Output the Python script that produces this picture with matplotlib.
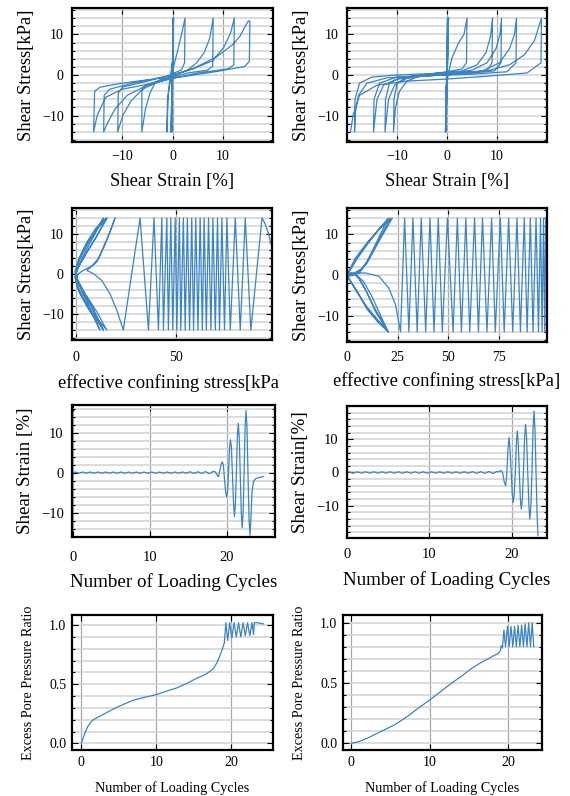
import matplotlib
matplotlib.use("Agg")
import matplotlib.pyplot as plt
from matplotlib.ticker import MultipleLocator, NullLocator
from matplotlib.transforms import Bbox, TransformedBbox

plt.rcParams['font.family'] = ['Liberation Serif', 'DejaVu Serif']
plt.rcParams['axes.unicode_minus'] = True

# ---------------- data: row 1 (stress-strain loops) ----------------
r1l_strain = [0, 0.1, -0.1, 0.15, -0.2, 0.2, -0.3, 0.2,
              0.1, -0.4, -0.8, -1.0, -1.1,
              -1.0, -0.5, 0.2, 0.9, 1.8, 2.5,
              2.4, 1.8, 0, -2, -3.5, -4.5, -5.4, -6.1,
              -6.1, -5.5, -3, 0, 3, 4.8, 6.3, 7.4, 8.1,
              8.0, 7.0, 3, 0, -3, -6, -8.3, -9.9, -10.9,
              -10.8, -10, -6, 0, 4, 8, 10.3, 11.6, 12.3,
              12.2, 11, 5, 0, -5, -9, -11.5, -13, -13.7,
              -13.6, -12.5, -8, 0, 4, 8.8, 12, 13.4, 14.7, 15.1, 15.4,
              15.3, 14.4, 9, 0, -5, -10, -13.3, -15, -15.7,
              -15.5, -14.4, -10, -5]
r1l_stress = [0, 14, -14, 14, -14, 14, -14, 14,
              4, 0, -4, -10, -14,
              -6, -2, 2, 5.4, 10, 14,
              3, 1.3, 0.3, -0.8, -2, -4.5, -8.5, -14,
              -4, -2.6, -1.5, -0.3, 1.2, 3, 5.5, 9, 14,
              2.2, 1.2, 0.5, -0.5, -1.8, -3.5, -6.5, -10, -14,
              -4.5, -3, -1.8, 0, 1.5, 3.5, 7, 10.5, 14,
              2.5, 1.5, 0.5, -0.8, -2.5, -5, -8.5, -12, -14,
              -5, -3.5, -2, 0, 1.5, 4.5, 7.5, 9.5, 12.5, 13.3, 13.3,
              3.4, 2.1, 0.9, -0.8, -2.3, -3.5, -5.5, -10, -14,
              -4, -3, -2, -1.2]

r1r_strain = [0, 0.2, -0.2, 0.3, -0.3, 0.1, -0.2, 0.3, -0.3,
              -0.2, 0.3, 1.0, 2.3, 3.4, 4.0,
              3.9, 3, 0, -5, -8, -9.5, -10.3, -10.7,
              -10.6, -10, -8, -3, 3, 6, 7.8, 8.7, 9.1,
              9.0, 8, 3, -3, -8, -10.5, -11.7, -12.4,
              -12.3, -11.5, -9, 0, 5, 8, 9.8, 10.6, 10.9,
              10.8, 9.5, 3, -5, -10, -12.7, -14, -14.7,
              -14.6, -13.5, -10, 0, 7, 10.5, 12.5, 13.5, 13.9,
              13.8, 12, 5, -5, -12, -16, -17.7, -18.3, -18.5,
              -18.4, -17.5, -15, -10, 0, 8, 12.5, 15.5, 17.5, 18.9,
              18.8, 16, 8, 0, -8, -14, -17.5, -18.8, -19.3]
r1r_stress = [0, 14, -14, 14, -14, 14, -14, 14, -14,
              -3, 0.5, 4.2, 7.9, 10, 14,
              3, 1.5, 0.8, 0, -1.5, -4, -8, -14,
              -6, -2, -0.5, 0.3, 1, 2.5, 5.5, 9.5, 14,
              3, 1, 0.5, 0, -0.8, -2.5, -6, -14,
              -6, -2, -0.5, 0.3, 1.2, 3, 6.5, 10, 14,
              3, 1.0, 0.3, -0.3, -1, -2.5, -6, -14,
              -6, -2, -0.5, 0, 1, 3, 6.5, 10, 14,
              3, 0.8, 0.2, -0.2, -0.7, -2, -5, -9, -14,
              -6, -2, -0.5, 0, 0.5, 1, 2.5, 5, 8.5, 14,
              3, 0.5, -0.3, -1, -1.5, -2.5, -5, -10, -14]

# ---------------- data: row 2 (stress paths) ----------------
r2l_peaks_p = [93.2, 87.6, 84.8, 82.3, 79.8, 77.3, 75.6, 74.4, 73.1, 71.9,
               70.9, 69.8, 68.6, 67.6, 66.4, 65.3, 64.2, 63.3, 62.2, 61.1,
               60.0, 58.9, 58.0, 56.9, 55.8, 54.7, 53.8, 52.5, 51.8, 50.5,
               49.7, 48.5, 47.5, 46.3, 45.5, 43.8, 43.0, 41.3, 39.1, 36.3,
               32.1, 23.7]
r2l_peaks_tau = [14, -14] * 21
r2l_start_p = [100.5, 99.3, 98.0, 96.5, 94.8]
r2l_start_tau = [0, 4, 7, 10, 12.5]
r2l_tail_p = [20.4, 17.0, 12.9, 8.7, 5.4, 10.4, 14, 17, 19.6,
              15.5, 11.5, 8, 4, 1.0, 0.0, 1.5, 5, 9.5, 15.4,
              10.5, 6, 2, 0, 0.5, 3, 7, 11, 15.7,
              11, 6, 2, -0.3, 0.3, 3, 7, 10.5, 13.7,
              9, 4.5, 1, -0.3, 1.5, 5, 9.5, 13.7,
              9, 4, 0.8, -0.5, 1, 5, 9, 12.0,
              8, 3.5, 0.5, -0.5, 1.5, 5.5, 10, 15.0,
              10, 5, 1, -0.5, 1.5, 6, 10.5, 13.7,
              9, 4, 0.5, -0.3]
r2l_tail_tau = [-9.0, -4.9, -1.6, 0.1, 0.9, 3.0, 7, 10.5, 14,
                8.5, 4.0, 2.0, 1.0, 0.0, -1.5, -4, -7.5, -10.5, -14,
                -9.5, -6, -3, -0.5, 2, 5, 8.5, 11.5, 14,
                10, 6, 2.5, 0, -2.5, -5.5, -9, -11.5, -14,
                -9.5, -5.5, -2, 0.5, 3.5, 7, 10.5, 14,
                9.5, 5, 1.5, -0.5, -3.5, -7.5, -11, -14,
                -9.5, -5, -1.5, 0.5, 4, 8, 11.5, 14,
                9, 5, 1.5, -1, -4.5, -8.5, -11.5, -14,
                -9, -4.5, -1, 1]

r2r_peaks_p = [98.0, 97.5, 96.9, 96.2, 95.4, 94.4, 93.2, 91.7, 90.4, 88.8,
               87.4, 85.5, 83.8, 81.7, 79.7, 77.5, 75.6, 73.1, 71.3, 69.0,
               66.8, 64.8, 62.9, 60.5, 58.6, 56.4, 54.4, 52.3, 49.5, 47.0,
               45.0, 42.9, 40.9, 38.8, 36.6, 34.6, 32.5, 30.5, 28.4, 26.4]
r2r_peaks_tau = [14, -14] * 20
r2r_start_p = [100.5, 99.6, 98.8]
r2r_start_tau = [0, 5, 10]
r2r_tail_p = [23.9, 20.6, 15.7, 9.1, 5, 1,
              0.3, 4, 10, 16, 22.3,
              16, 11, 7, 3, 0.5, 4, 10, 15, 20.3,
              14, 9.5, 6, 3, 0.5, 5, 11, 16, 21.4,
              15, 10, 6.5, 2.5, 0.3, 4, 9, 14.5, 20.3,
              13.5, 8, 5, 2, 0.3, 5, 10, 15, 20.3,
              14, 9, 6, 2, 0.3, 5, 10, 15, 20.3,
              12, 8, 4, 0.5]
r2r_tail_tau = [-7.3, -3.2, -0.3, 0.5, 0.5, 0.2,
                0.5, 4, 8, 11.3, 14,
                8.5, 4, 1.5, 0.3, -0.5, -3.5, -8, -11, -14,
                -9, -4, -1, 0.5, 0.3, 4.5, 8.5, 11.5, 14,
                8, 3, 1, 0, -0.3, -3.3, -7.5, -10.8, -14,
                -8, -2.5, 0, 0.5, 0.2, 4, 7.5, 10.8, 14,
                7.5, 2.5, 0.5, 0, -0.5, -4, -8.5, -11.5, -14,
                -5, -1.5, 0.2, 0]

# ---------------- data: row 3 (strain vs cycles) ----------------
r3l_cycles = [0, 0.25, 0.75, 1.25, 1.75, 2.25, 2.75, 3.25, 3.75, 4.25, 4.75,
              5.25, 5.75, 6.25, 6.75, 7.25, 7.75, 8.25, 8.75, 9.25, 9.75,
              10.25, 10.75, 11.25, 11.75, 12.25, 12.75, 13.25, 13.75, 14.25,
              14.75, 15.25, 15.75, 16.25, 16.75, 17.25, 17.75, 18.25,
              18.5, 18.7, 18.85, 18.95, 19.1, 19.3, 19.45, 19.58, 19.72,
              19.87, 20.0, 20.12, 20.25, 20.38, 20.5, 20.62, 20.75, 20.9,
              21.02, 21.14, 21.27, 21.4, 21.52, 21.64, 21.77, 21.91, 22.03,
              22.15, 22.28, 22.41, 22.53, 22.65, 22.78, 22.92, 23.04, 23.15,
              23.3, 23.5, 23.8, 24.3, 24.8]
r3l_strain = [0, 0.15, -0.15, 0.15, -0.15, 0.15, -0.15, 0.15, -0.15, 0.15, -0.15,
              0.15, -0.15, 0.15, -0.15, 0.15, -0.15, 0.15, -0.15, 0.15, -0.15,
              0.15, -0.15, 0.15, -0.15, 0.15, -0.15, 0.15, -0.15, 0.15,
              -0.15, 0.2, -0.2, 0.2, -0.2, 0.25, -0.25, 0.3,
              0.2, -0.3, -1.0, -0.9, 0.3, 2.2, 2.7, 1.8, -1.5,
              -4.8, -6.0, -4.8, 0.0, 6.0, 8.2, 6.5, 0.0, -7.5,
              -11.0, -8.0, 0.0, 9.0, 12.3, 9.0, 0.0, -10.0, -13.8,
              -10.0, 0.0, 11.5, 15.5, 11.5, 0.0, -11.5, -15.7, -12.0,
              -5.0, -2.2, -1.5, -1.2, -1.0]

r3r_cycles = [0, 0.25, 0.75, 1.25, 1.75, 2.25, 2.75, 3.25, 3.75, 4.25, 4.75,
              5.25, 5.75, 6.25, 6.75, 7.25, 7.75, 8.25, 8.75, 9.25, 9.75,
              10.25, 10.75, 11.25, 11.75, 12.25, 12.75, 13.25, 13.75, 14.25,
              14.75, 15.25, 15.75, 16.25, 16.75, 17.25, 17.75, 18.2,
              18.45, 18.7, 18.9, 19.1, 19.27, 19.4, 19.55, 19.68, 19.8,
              19.95, 20.08, 20.2, 20.32, 20.45, 20.58, 20.69, 20.8, 20.94,
              21.06, 21.18, 21.3, 21.44, 21.58, 21.7, 21.82, 21.96, 22.1,
              22.22, 22.34, 22.47, 22.6, 22.72, 22.84, 22.97, 23.1, 23.2]
r3r_strain = [0, 0.2, -0.2, 0.2, -0.2, 0.2, -0.2, 0.2, -0.2, 0.2, -0.2,
              0.2, -0.2, 0.2, -0.2, 0.2, -0.2, 0.2, -0.2, 0.2, -0.2,
              0.2, -0.2, 0.2, -0.2, 0.2, -0.2, 0.2, -0.2, 0.2,
              -0.2, 0.25, -0.25, 0.25, -0.25, 0.3, -0.3, 0.3,
              0.2, 0.6, 0.0, -2.8, -4.0, -1.0, 6.5, 10.5, 7.5,
              0.0, -6.5, -9.0, -6.5, 0.0, 9.0, 12.5, 9.0, 0.0,
              -8.0, -11.0, -8.0, 0.0, 10.5, 14.5, 10.5, 0.0, -10.0,
              -14.0, -10.0, 0.0, 13.0, 18.5, 13.0, 0.0, -13.0, -19.0]

# ---------------- data: row 4 (excess pore pressure ratio) ----------------
r4l_cycles = [0, 0.15, 0.3, 0.5, 0.84, 1.2, 1.6, 2.5, 3.5, 4.75, 6, 7, 8.5,
              9.9, 11.3, 12.8, 14.2, 15.4, 16.3, 17, 17.6, 18.1, 18.5, 18.8,
              19.1, 19.3, 19.55, 19.8, 20.1, 20.4, 20.7, 21.0, 21.3, 21.6,
              21.9, 22.2, 22.5, 22.8, 23.0, 23.1, 23.5, 24.3]
r4l_ratio = [0, 0.03, 0.056, 0.09, 0.14, 0.175, 0.2, 0.23, 0.265, 0.305,
             0.34, 0.366, 0.39, 0.41, 0.44, 0.47, 0.51, 0.55, 0.575, 0.6,
             0.63, 0.68, 0.74, 0.79, 0.85, 1.02, 0.87, 1.02, 0.89, 1.02,
             0.9, 1.02, 0.9, 1.02, 0.91, 1.02, 0.91, 1.02, 0.92, 1.02,
             1.02, 1.01]

r4r_cycles = [0, 1, 2.1, 3.2, 4.3, 5.4, 6.4, 7.5, 8.5, 10, 11.4, 12.8, 14.1,
              15.3, 16.4, 17.4, 18.1, 18.7, 19.0, 19.1, 19.25, 19.45, 19.65,
              19.9, 20.12, 20.35, 20.58, 20.8, 21.03, 21.25, 21.48, 21.7,
              21.93, 22.15, 22.38, 22.6, 22.83, 23.05, 23.25]
r4r_ratio = [0, 0.015, 0.045, 0.08, 0.115, 0.15, 0.19, 0.24, 0.29, 0.36,
             0.43, 0.5, 0.56, 0.62, 0.665, 0.70, 0.725, 0.745, 0.77, 0.81,
             0.79, 0.94, 0.80, 0.97, 0.80, 0.97, 0.80, 0.97, 0.80, 0.98,
             0.80, 0.98, 0.80, 0.99, 0.80, 1.0, 0.80, 1.0, 0.80]

# ---------------- figure ----------------
W, H = 570, 796
fig = plt.figure(figsize=(W / 100, H / 100), dpi=100)
LINE = '#3b84c4'
LW = 0.9


def rect(x0, y0, x1, y1):
    return [x0 / W, 1 - y1 / H, (x1 - x0) / W, (y1 - y0) / H]


def style(ax, ymin_step, tick_size, tick_pad, xpad=None):
    ax.yaxis.set_minor_locator(MultipleLocator(ymin_step))
    ax.xaxis.set_minor_locator(NullLocator())
    ax.xaxis.grid(True, which='major', color='#a8a8a8', lw=0.9)
    ax.yaxis.grid(True, which='both', color='#d2d2d2', lw=1.1)
    ax.set_axisbelow(True)
    ax.tick_params(which='both', direction='in', top=True, right=True,
                   labelsize=tick_size, pad=tick_pad, width=0.8)
    if xpad is not None:
        ax.tick_params(axis='x', which='both', pad=xpad)
    ax.tick_params(which='major', length=4.5)
    ax.tick_params(which='minor', length=2.5)
    for s in ax.spines.values():
        s.set_linewidth(1.6)


def stress_strain(ax, xs, ys, ylab):
    ax.plot(xs, ys, color=LINE, lw=LW)
    ax.set_xlim(-20, 20)
    ax.set_ylim(-16.5, 16.5)
    ax.set_xticks([-10, 0, 10])
    ax.set_yticks([-10, 0, 10])
    style(ax, 2, 10, 6)
    ax.set_xlabel('Shear Strain [%]', fontsize=13.4, labelpad=7)
    ax.set_ylabel(ylab, fontsize=13.4, labelpad=5)


# Row 1
ax1 = fig.add_axes(rect(72, 8, 273, 142))
stress_strain(ax1, r1l_strain, r1l_stress, 'Shear Stress[kPa]')
ax2 = fig.add_axes(rect(347, 8, 547, 142))
stress_strain(ax2, r1r_strain, r1r_stress, 'Shear Stress[kPa]')

# Row 2
ax3 = fig.add_axes(rect(72, 208, 272, 340))
ax3.plot(r2l_start_p + r2l_peaks_p + r2l_tail_p,
         r2l_start_tau + r2l_peaks_tau + r2l_tail_tau, color=LINE, lw=LW)
ax3.set_xlim(-2, 98.2)
ax3.set_ylim(-16.5, 16.5)
ax3.set_xticks([0, 50])
ax3.set_yticks([-10, 0, 10])
style(ax3, 2, 10, 6, xpad=8)
lab3 = ax3.set_xlabel('effective confining stress[kPa]', fontsize=13.4, labelpad=7)
lab3.set_clip_on(True)
lab3.set_clip_box(TransformedBbox(Bbox([[0, 0], [279.5 / W, 1]]), fig.transFigure))
ax3.set_ylabel('Shear Stress[kPa]', fontsize=13.4, labelpad=5)

ax4 = fig.add_axes(rect(347, 208, 547, 342))
ax4.plot(r2r_start_p + r2r_peaks_p + r2r_tail_p,
         r2r_start_tau + r2r_peaks_tau + r2r_tail_tau, color=LINE, lw=LW)
ax4.set_xlim(0, 98.6)
ax4.set_ylim(-16.5, 16.5)
ax4.set_xticks([0, 25, 50, 75])
ax4.set_yticks([-10, 0, 10])
style(ax4, 2, 10, 6, xpad=6.5)
ax4.set_xlabel('effective confining stress[kPa]', fontsize=13.4, labelpad=6)
ax4.set_ylabel('Shear Stress[kPa]', fontsize=13.4, labelpad=5)

# Row 3
ax5 = fig.add_axes(rect(72, 405, 275, 537))
ax5.plot(r3l_cycles, r3l_strain, color=LINE, lw=LW)
ax5.set_xlim(-0.13, 26.3)
ax5.set_ylim(-16.1, 16.9)
ax5.set_xticks([0, 10, 20])
ax5.set_yticks([-10, 0, 10])
style(ax5, 2, 10.5, 6, xpad=10)
ax5.set_xlabel('Number of Loading Cycles', fontsize=13.7, labelpad=7)
ax5.set_ylabel('Shear Strain [%]', fontsize=13.7, labelpad=5)

ax6 = fig.add_axes(rect(347, 406, 547, 538))
ax6.plot(r3r_cycles, r3r_strain, color=LINE, lw=LW)
ax6.set_xlim(0, 24.3)
ax6.set_ylim(-19.7, 20)
ax6.set_xticks([0, 10, 20])
ax6.set_yticks([-10, 0, 10])
style(ax6, 2, 10.5, 6, xpad=7.5)
ax6.set_xlabel('Number of Loading Cycles', fontsize=13.7, labelpad=7)
ax6.set_ylabel('Shear Strain[%]', fontsize=13.7, labelpad=5)

# Row 4
ax7 = fig.add_axes(rect(72, 615, 273, 750))
ax7.plot(r4l_cycles, r4l_ratio, color=LINE, lw=LW)
ax7.set_xlim(-1.25, 25.6)
ax7.set_ylim(-0.056, 1.085)
ax7.set_xticks([0, 10, 20])
ax7.set_yticks([0.0, 0.5, 1.0])
style(ax7, 0.1, 10, 4)
ax7.set_xlabel('Number of Loading Cycles', fontsize=10.2, labelpad=9)
ax7.set_ylabel('Excess Pore Pressure Ratio', fontsize=10.2, labelpad=10)

ax8 = fig.add_axes(rect(343, 615, 542, 750))
ax8.plot(r4r_cycles, r4r_ratio, color=LINE, lw=LW)
ax8.set_xlim(-1.06, 24.3)
ax8.set_ylim(-0.055, 1.064)
ax8.set_xticks([0, 10, 20])
ax8.set_yticks([0.0, 0.5, 1.0])
style(ax8, 0.1, 10, 4)
ax8.set_xlabel('Number of Loading Cycles', fontsize=10.2, labelpad=9)
ax8.set_ylabel('Excess Pore Pressure Ratio', fontsize=10.2, labelpad=10)

fig.savefig('out.png', dpi=100, facecolor='white')
